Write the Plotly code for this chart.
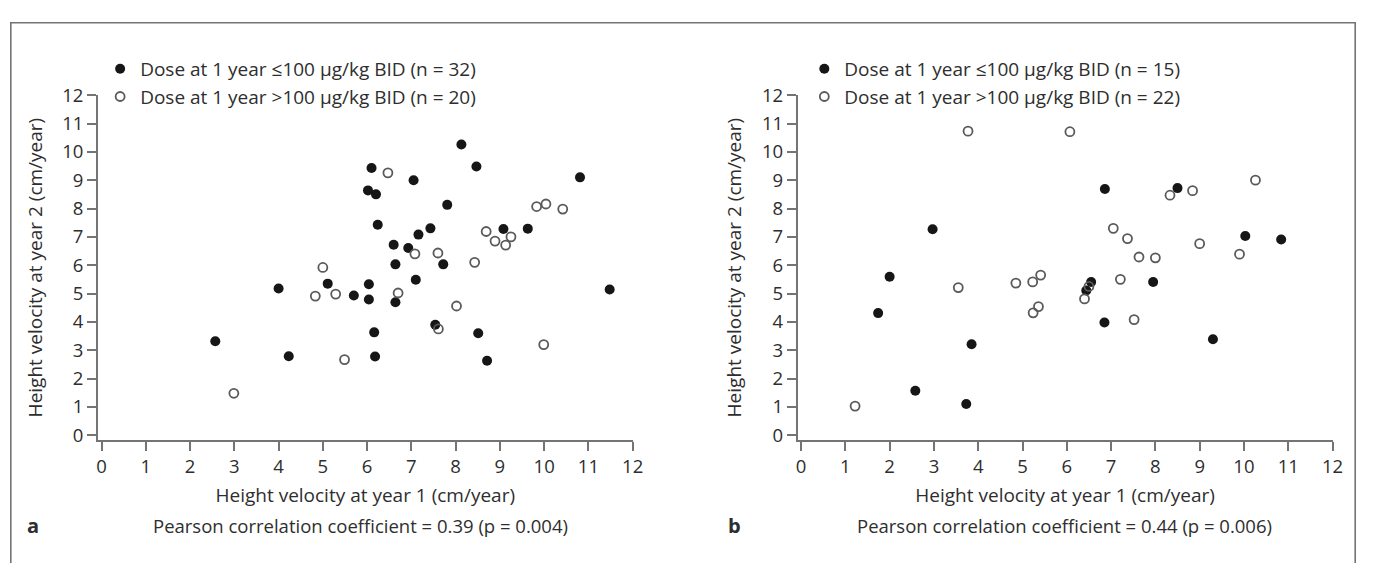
import plotly.graph_objects as go

# Panel a data
a_low_x = [6.10, 6.02, 6.20, 6.24, 8.13, 8.47, 7.05, 10.81, 7.81, 7.43, 7.16, 9.08, 9.63, 6.60, 6.93, 6.64,
           7.72, 5.11, 4.00, 5.70, 6.04, 6.04, 6.16, 6.18, 2.57, 4.23, 7.10, 6.64, 11.48, 7.54, 8.51, 8.71]
a_low_y = [9.43, 8.64, 8.50, 7.43, 10.26, 9.48, 9.00, 9.10, 8.13, 7.30, 7.08, 7.28, 7.29, 6.72, 6.61, 6.03,
           6.03, 5.35, 5.18, 4.93, 5.33, 4.79, 3.63, 2.78, 3.32, 2.79, 5.49, 4.69, 5.14, 3.90, 3.60, 2.63]
a_high_x = [5.00, 6.47, 9.83, 10.04, 10.42, 8.69, 8.89, 9.25, 9.13, 7.08, 7.60, 8.43, 4.83, 5.29, 5.49, 2.99,
            6.70, 8.02, 7.61, 9.99]
a_high_y = [5.92, 9.26, 8.07, 8.16, 7.98, 7.19, 6.85, 7.00, 6.71, 6.40, 6.43, 6.10, 4.91, 4.98, 2.67, 1.48,
            5.02, 4.56, 3.75, 3.20]

# Panel b data
b_low_x = [2.97, 2.00, 6.86, 8.50, 10.03, 10.84, 1.74, 3.85, 2.58, 3.73, 6.55, 6.44, 7.95, 6.85, 9.30]
b_low_y = [7.27, 5.59, 8.69, 8.72, 7.03, 6.91, 4.31, 3.21, 1.57, 1.10, 5.41, 5.11, 5.41, 3.98, 3.39]
b_high_x = [3.77, 6.07, 8.33, 8.84, 10.26, 7.05, 7.37, 9.00, 7.63, 8.00, 9.90, 3.55, 4.85, 5.23, 5.41, 5.24,
            5.36, 6.50, 6.40, 7.21, 7.52, 1.22]
b_high_y = [10.73, 10.71, 8.47, 8.63, 9.00, 7.30, 6.94, 6.76, 6.29, 6.26, 6.39, 5.21, 5.37, 5.41, 5.65, 4.32,
            4.54, 5.25, 4.81, 5.50, 4.08, 1.03]

a_names = ["Dose at 1 year ≤100 µg/kg BID (n = 32)", "Dose at 1 year >100 µg/kg BID (n = 20)"]
b_names = ["Dose at 1 year ≤100 µg/kg BID (n = 15)", "Dose at 1 year >100 µg/kg BID (n = 22)"]
x_title = "Height velocity at year 1 (cm/year)"
y_title = "Height velocity at year 2 (cm/year)"
a_note = "Pearson correlation coefficient = 0.39 (p = 0.004)"
b_note = "Pearson correlation coefficient = 0.44 (p = 0.006)"
tick_vals = list(range(0, 13))

# page body has an 8px margin: size the figure so the page fits the window
OFF = 8
W, H = 1375 - 2 * OFF, 571 - 2 * OFF
FONT = "Open Sans"
TXT = "#2e2e2e"
AX = "#747474"

filled = dict(symbol="circle", size=10, color="#161616", line=dict(width=0))
hollow = dict(symbol="circle-open", size=9, color="#5a5a5a", line=dict(width=1.8))

fig = go.Figure()
fig.add_trace(go.Scatter(x=a_low_x, y=a_low_y, mode="markers", name=a_names[0], marker=filled,
                         xaxis="x", yaxis="y", legend="legend", legendgroup="a1"))
fig.add_trace(go.Scatter(x=a_high_x, y=a_high_y, mode="markers", name=a_names[1], marker=hollow,
                         xaxis="x", yaxis="y", legend="legend", legendgroup="a2"))
fig.add_trace(go.Scatter(x=b_low_x, y=b_low_y, mode="markers", name=b_names[0], marker=filled,
                         xaxis="x2", yaxis="y2", legend="legend2", legendgroup="b1"))
fig.add_trace(go.Scatter(x=b_high_x, y=b_high_y, mode="markers", name=b_names[1], marker=hollow,
                         xaxis="x2", yaxis="y2", legend="legend2", legendgroup="b2"))


def px_x(p):  # screen pixel -> paper
    return (p - OFF) / W


def px_y(p):
    return 1 - (p - OFF) / H


axis_common = dict(showline=True, linecolor=AX, linewidth=1.6, ticks="outside", ticklen=9,
                   tickcolor=AX, tickwidth=1.6, showgrid=False, zeroline=False,
                   tickmode="array", tickvals=tick_vals,
                   tickfont=dict(family=FONT, size=18.5, color=TXT))
title_font = dict(family=FONT, size=19, color=TXT)

ydom = [px_y(441.7), px_y(83.9)]
fig.update_layout(
    width=W, height=H,
    margin=dict(l=0, r=0, t=0, b=0),
    paper_bgcolor="white", plot_bgcolor="white",
    font=dict(family=FONT, size=18.5, color=TXT),
    xaxis=dict(domain=[px_x(96.7), px_x(636.7)], range=[-0.083, 12], anchor="y",
               title=dict(text=x_title, standoff=12, font=title_font), **axis_common),
    yaxis=dict(domain=ydom, range=[-0.17, 12], anchor="x",
               title=dict(text=y_title, standoff=15, font=title_font), **axis_common),
    xaxis2=dict(domain=[px_x(803.3), px_x(1343.3)], range=[-0.076, 12], anchor="y2",
                title=dict(text=x_title, standoff=12, font=title_font), **axis_common),
    yaxis2=dict(domain=ydom, range=[-0.17, 12], anchor="x2",
                title=dict(text=y_title, standoff=15, font=title_font), **axis_common),
    legend=dict(x=px_x(99), y=px_y(37), xanchor="left", yanchor="top", bgcolor="rgba(0,0,0,0)",
                font=dict(family=FONT, size=19, color=TXT), tracegroupgap=0, traceorder="grouped",
                itemsizing="trace"),
    legend2=dict(x=px_x(810), y=px_y(37), xanchor="left", yanchor="top", bgcolor="rgba(0,0,0,0)",
                 font=dict(family=FONT, size=19, color=TXT), tracegroupgap=0, traceorder="grouped",
                 itemsizing="trace"),
    showlegend=True,
)

fig.add_shape(type="rect", xref="paper", yref="paper", x0=px_x(8.8), x1=px_x(1366.2), y0=-0.05,
              y1=px_y(8.8), line=dict(color=AX, width=1.6), fillcolor="rgba(0,0,0,0)", layer="below")

fig.add_annotation(text=a_note, xref="paper", yref="paper", x=px_x(362), y=px_y(530), showarrow=False,
                   xanchor="center", yanchor="middle", font=dict(family=FONT, size=18.5, color=TXT))
fig.add_annotation(text=b_note, xref="paper", yref="paper", x=px_x(1073), y=px_y(530), showarrow=False,
                   xanchor="center", yanchor="middle", font=dict(family=FONT, size=18.5, color=TXT))
fig.add_annotation(text="<b>a</b>", xref="paper", yref="paper", x=px_x(23), y=px_y(530), showarrow=False,
                   xanchor="left", yanchor="middle", font=dict(family=FONT, size=20, color=TXT))
fig.add_annotation(text="<b>b</b>", xref="paper", yref="paper", x=px_x(731), y=px_y(530), showarrow=False,
                   xanchor="left", yanchor="middle", font=dict(family=FONT, size=20, color=TXT))

fig.write_html("out.html")
